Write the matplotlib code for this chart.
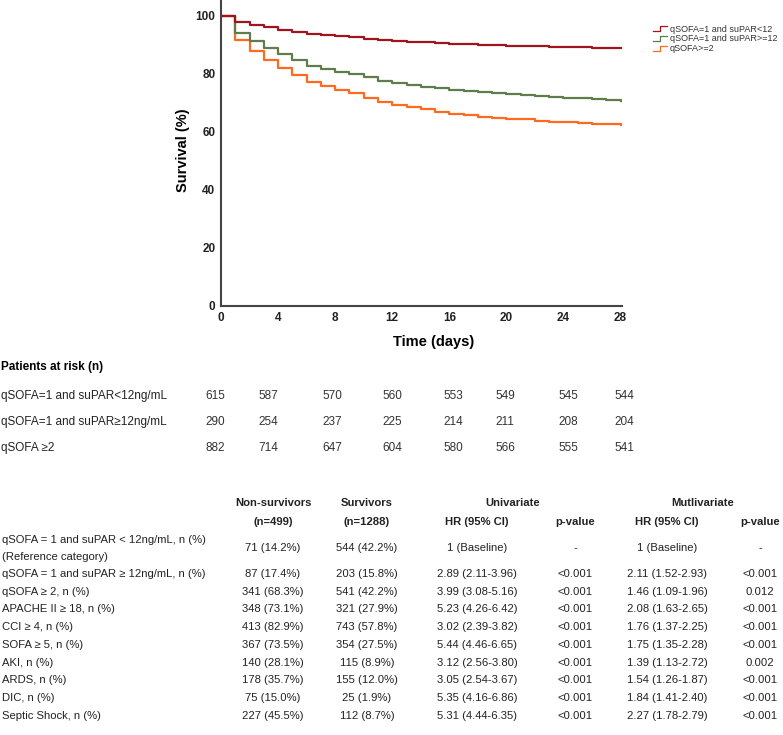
import matplotlib
matplotlib.use('Agg')
import matplotlib.pyplot as plt
import numpy as np
from matplotlib.legend_handler import HandlerLine2D
from matplotlib.lines import Line2D

plt.rcParams['font.family'] = ['Liberation Sans', 'DejaVu Sans']

# survival curves, one value per day 0..28
days = np.arange(0, 29)
surv_low = [100, 97.9, 97.0, 96.1, 95.3, 94.5, 93.9, 93.6, 93.1, 92.8, 92.2, 91.7, 91.4, 91.1,
            90.9, 90.7, 90.3, 90.2, 90.0, 89.9, 89.8, 89.7, 89.5, 89.4, 89.3, 89.2, 89.1, 89.0, 88.8]
surv_high = [100, 94.1, 91.4, 88.9, 87.0, 84.7, 82.9, 81.7, 80.8, 79.9, 78.9, 77.7, 76.9, 76.2,
             75.5, 75.1, 74.4, 74.0, 73.7, 73.3, 73.0, 72.6, 72.3, 71.95, 71.7, 71.6, 71.3, 71.1, 70.8]
surv_q2 = [100, 91.8, 87.9, 84.7, 82.2, 79.7, 77.4, 75.9, 74.6, 73.6, 71.8, 70.5, 69.3, 68.6,
           67.8, 67.0, 66.3, 65.7, 65.3, 64.9, 64.6, 64.3, 63.9, 63.6, 63.3, 63.1, 62.9, 62.6, 62.3]
curve_labels = ['qSOFA=1 and suPAR<12', 'qSOFA=1 and suPAR>=12', 'qSOFA>=2']
curve_colors = ['#a0141e', '#5f7d4b', '#ff6a1e']

# patients at risk
risk_labels = ['qSOFA=1 and suPAR<12ng/mL', 'qSOFA=1 and suPAR\u226512ng/mL', 'qSOFA \u22652']
risk_low = [615, 587, 570, 560, 553, 549, 545, 544]
risk_high = [290, 254, 237, 225, 214, 211, 208, 204]
risk_q2 = [882, 714, 647, 604, 580, 566, 555, 541]
risk_x = [215, 268, 332, 392, 453, 505, 568, 624]

# table
row_names = ['qSOFA = 1 and suPAR \u2265 12ng/mL, n (%)', 'qSOFA \u2265 2, n (%)',
             'APACHE II \u2265 18, n (%)', 'CCI \u2265 4, n (%)', 'SOFA \u2265 5, n (%)',
             'AKI, n (%)', 'ARDS, n (%)', 'DIC, n (%)', 'Septic Shock, n (%)']
non_surv = ['87 (17.4%)', '341 (68.3%)', '348 (73.1%)', '413 (82.9%)', '367 (73.5%)',
            '140 (28.1%)', '178 (35.7%)', '75 (15.0%)', '227 (45.5%)']
surv = ['203 (15.8%)', '541 (42.2%)', '321 (27.9%)', '743 (57.8%)', '354 (27.5%)',
        '115 (8.9%)', '155 (12.0%)', '25 (1.9%)', '112 (8.7%)']
uni_hr = ['2.89 (2.11-3.96)', '3.99 (3.08-5.16)', '5.23 (4.26-6.42)', '3.02 (2.39-3.82)',
          '5.44 (4.46-6.65)', '3.12 (2.56-3.80)', '3.05 (2.54-3.67)', '5.35 (4.16-6.86)',
          '5.31 (4.44-6.35)']
uni_p = ['<0.001'] * 9
multi_hr = ['2.11 (1.52-2.93)', '1.46 (1.09-1.96)', '2.08 (1.63-2.65)', '1.76 (1.37-2.25)',
            '1.75 (1.35-2.28)', '1.39 (1.13-2.72)', '1.54 (1.26-1.87)', '1.84 (1.41-2.40)',
            '2.27 (1.78-2.79)']
multi_p = ['<0.001', '0.012', '<0.001', '<0.001', '<0.001', '0.002', '<0.001', '<0.001', '<0.001']

W, H = 783, 735
fig = plt.figure(figsize=(W / 100, H / 100), dpi=100)


def fx(px):
    return px / W


def fy(py):
    return 1 - py / H


class StepHandler(HandlerLine2D):
    def create_artists(self, legend, orig_handle, xdescent, ydescent, width, height, fontsize, trans):
        x0, x1 = -xdescent, -xdescent + width
        y0, y1 = -ydescent + 0.1 * height, -ydescent + 0.9 * height
        xm = x0 + 0.55 * width
        ln = Line2D([x0, xm, xm, x1], [y0, y0, y1, y1], color=orig_handle.get_color(), lw=0.9)
        ln.set_transform(trans)
        return [ln]


ax = fig.add_axes([fx(221), fy(306), fx(622) - fx(221), fy(0) - fy(306)])
curves = [surv_low, surv_high, surv_q2]
for vals, col in zip(curves[::-1], curve_colors[::-1]):
    ax.step(days, vals, where='post', color=col, lw=1.6)
handles = [Line2D([], [], color=col, label=lab) for col, lab in zip(curve_colors, curve_labels)]
ax.set_xlim(0, 28.1)
ax.set_ylim(0, 105.5)
ax.set_xticks(range(0, 29, 4))
ax.set_yticks(range(0, 101, 20))
for s in ['top', 'right']:
    ax.spines[s].set_visible(False)
for s in ['left', 'bottom']:
    ax.spines[s].set_color('#444444')
    ax.spines[s].set_linewidth(1.5)
ax.tick_params(length=0, labelsize=8.5, pad=4)
for t in ax.get_xticklabels() + ax.get_yticklabels():
    t.set_fontweight('bold')
    t.set_color('#222222')
ax.set_ylabel('Survival (%)', fontsize=10.5, fontweight='bold', va='center')
ax.yaxis.set_label_coords(-0.095, 0.51)
ax.set_xlabel('Time (days)', fontsize=10.5, fontweight='bold', va='center')
ax.xaxis.set_label_coords(0.529, -0.118)

fig.legend(handles=handles, loc='upper left', bbox_to_anchor=(fx(648), fy(20)),
           frameon=False, fontsize=6.5, handlelength=1.6, handletextpad=0.3,
           labelspacing=0.1, borderpad=0, handler_map={Line2D: StepHandler()},
           labelcolor='#333333')

# patients at risk block
fig.text(fx(1), fy(367), 'Patients at risk (n)', fontsize=8.5, fontweight='bold', va='center')
for row, (lab, vals) in enumerate(zip(risk_labels, [risk_low, risk_high, risk_q2])):
    y = fy(396 + row * 26)
    fig.text(fx(1), y, lab, fontsize=8.5, va='center', color='#222222')
    for xp, v in zip(risk_x, vals):
        fig.text(fx(xp), y, str(v), fontsize=8.5, va='center', ha='center', color='#333333')

# table
fs = 8.1
hdr = dict(fontsize=fs, fontweight='bold', ha='center', va='center', color='#222222')
col_x = [273, 367, 477, 575, 667, 760]
fig.text(fx(273), fy(503), 'Non-survivors', **hdr)
fig.text(fx(273), fy(522), '(n=499)', **hdr)
fig.text(fx(367), fy(503), 'Survivors', **hdr)
fig.text(fx(367), fy(522), '(n=1288)', **hdr)
fig.text(fx(513), fy(503), 'Univariate', **hdr)
fig.text(fx(703), fy(503), 'Mutlivariate', **hdr)
for xp, lab in zip(col_x[2:], ['HR (95% CI)', 'p-value', 'HR (95% CI)', 'p-value']):
    fig.text(fx(xp), fy(522), lab, **hdr)

cell = dict(fontsize=fs, ha='center', va='center', color='#222222')
lab_kw = dict(fontsize=fs, ha='left', va='center', color='#222222')
fig.text(fx(2), fy(540), 'qSOFA = 1 and suPAR < 12ng/mL, n (%)', **lab_kw)
fig.text(fx(2), fy(557), '(Reference category)', **lab_kw)
for xp, v in zip(col_x, ['71 (14.2%)', '544 (42.2%)', '1 (Baseline)', '-', '1 (Baseline)', '-']):
    fig.text(fx(xp), fy(548), v, **cell)

for i in range(len(row_names)):
    y = fy(574 + i * 17.7)
    fig.text(fx(2), y, row_names[i], **lab_kw)
    for xp, v in zip(col_x, [non_surv[i], surv[i], uni_hr[i], uni_p[i], multi_hr[i], multi_p[i]]):
        fig.text(fx(xp), y, v, **cell)

fig.savefig('out.png', dpi=100)
